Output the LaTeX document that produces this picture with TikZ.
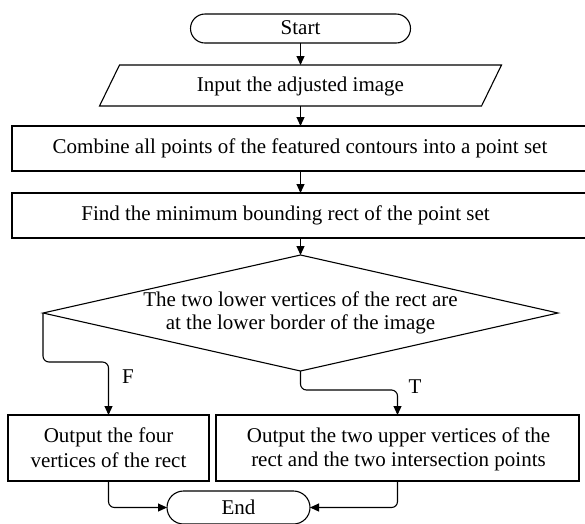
\documentclass[tikz,border=0pt]{standalone}
\usepackage{fontspec}
\setmainfont{Liberation Serif}
\usetikzlibrary{arrows.meta,shapes.misc,shapes.geometric,calc}
\begin{document}
\begin{tikzpicture}[x=1pt,y=-1pt,
  every node/.style={inner sep=0pt,outer sep=0pt},
  line/.style={line width=1.1pt,black},
  arr/.style={line,-{Triangle[length=9pt,width=8pt]},rounded corners=6pt},
  box/.style={draw,line,rectangle},
  term/.style={draw,line,rounded rectangle},
  txt/.style={anchor=base,font=\fontsize{21}{25}\selectfont}
]
\useasboundingbox (0,0) rectangle (585,523);
\clip (0,0) rectangle (585,523);
% shapes
\node[term,minimum width=220pt,minimum height=29pt] (start) at (300.5,28.5) {};
\node[minimum width=382pt,minimum height=41pt] (input) at (300.5,85.5) {};
\draw[line] ($(input.north west)+(10,0)$) -- ($(input.north east)+(10,0)$)
  -- ($(input.south east)+(-10,0)$) -- ($(input.south west)+(-10,0)$) -- cycle;
\node[box,minimum width=576pt,minimum height=45pt] (comb) at (300,148.5) {};
\node[box,minimum width=576pt,minimum height=45pt] (find) at (300,215.5) {};
\node[draw,line,diamond,minimum width=515pt,minimum height=116pt] (dec) at (300.5,313) {};
\node[box,minimum width=201pt,minimum height=66pt] (lbox) at (108.5,448) {};
\node[box,minimum width=363pt,minimum height=66pt] (rbox) at (397.5,448) {};
\node[term,minimum width=143pt,minimum height=33pt] (endn) at (238.5,507.5) {};
% texts
\node[txt] (tstart) at (300.5,34) {Start};
\node[txt] (tinput) at (300.5,91) {Input the adjusted image};
\node[txt] (tcomb) at (300,153.5) {Combine all points of the featured contours into a point set};
\node[txt] (tfind) at (285.5,220.5) {Find the minimum bounding rect of the point set};
\node[txt] (tdec1) at (300.5,306) {The two lower vertices of the rect are};
\node[txt] (tdec2) at (300.5,329) {at the lower border of the image};
\node[txt] (tl1) at (108.5,442) {Output the four};
\node[txt] (tl2) at (108.5,467) {vertices of the rect};
\node[txt] (tr1) at (398.5,442) {Output the two upper vertices of the};
\node[txt] (tr2) at (398.5,466) {rect and the two intersection points};
\node[txt] (tend) at (238.5,514.5) {End};
\node[txt] (flab) at (128,383) {F};
\node[txt] (tlab) at (415,393) {T};
% connectors
\coordinate (fy) at (0,362);
\coordinate (ty) at (0,390);
\draw[arr] (start.south) -- (input.north);
\draw[arr] (input.south) -- (input.south |- comb.north);
\draw[arr] (comb.south -| input.south) -- (find.north -| input.south);
\draw[arr] (find.south -| dec.north) -- (dec.north);
\draw[arr] (dec.west) |- (fy -| lbox.north) -- (lbox.north);
\draw[arr] (dec.south) |- (ty -| rbox.north) -- (rbox.north);
\draw[arr] (lbox.south) |- (endn.west);
\draw[arr] (rbox.south) |- (endn.east);
\end{tikzpicture}
\end{document}
